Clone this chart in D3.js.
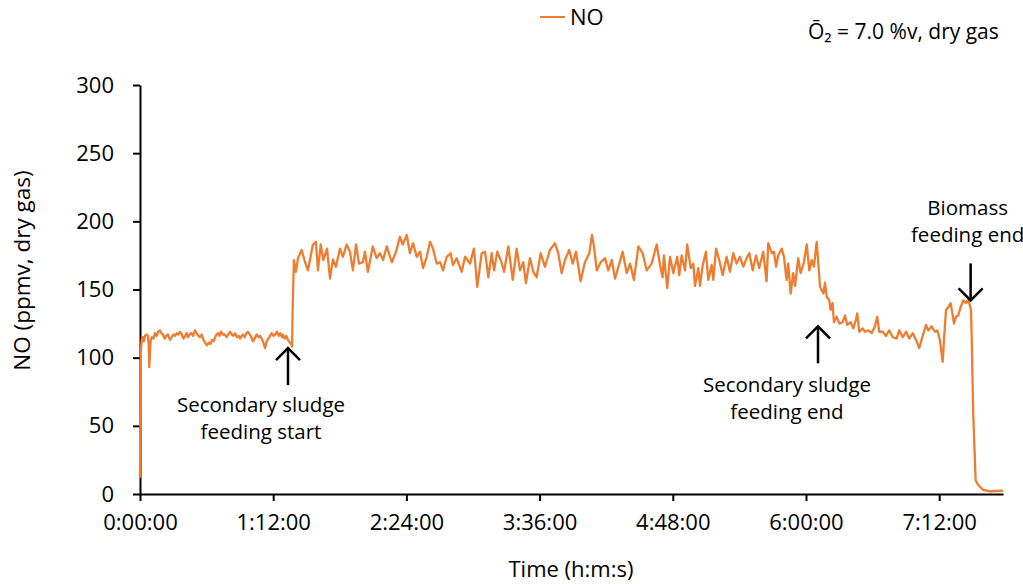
<!DOCTYPE html>
<html>
<head>
<meta charset="utf-8">
<script src="https://cdn.jsdelivr.net/npm/d3@7"></script>
<style>
  html, body { margin: 0; padding: 0; background: #fff; }
  svg { display: block; font-family: "Open Sans", "Noto Sans", sans-serif; }
</style>
</head>
<body>
<svg id="chart" width="1023" height="584"></svg>
<script>
// ---- Data (time in minutes since start, NO in ppmv dry gas) ----
const timeMin = [
  0, 0.5, 0.9, 1.5, 2.1, 2.7, 3.4, 4.3, 4.7, 5.0, 5.4, 5.8, 6.5, 7.3, 8.1, 9, 9.8, 10.8, 11.6, 12.4,
  13.3, 14.2, 15.1, 16.2, 17.2, 18.1, 19, 19.9, 20.8, 21.6, 22.6, 23.5, 24.4, 25.2, 25.9, 26.8, 27.7, 28.7, 29.7, 30.6,
  31.5, 32.4, 33.3, 34.3, 35.2, 36.2, 37.1, 38, 38.9, 39.8, 40.6, 41.4, 42.2, 43, 43.8, 44.8, 45.9, 46.8, 47.7, 48.6,
  49.6, 50.5, 51.4, 52.4, 53.3, 54.1, 55, 55.7, 56.6, 57.5, 58.4, 59.3, 60.2, 61.1, 62, 63, 64, 64.9, 65.8, 66.7,
  67.6, 68.5, 69.4, 70.3, 71.2, 72.2, 73.1, 74.1, 75, 75.9, 76.7, 77.3, 78.2, 79.1, 80, 81, 81.8, 82.2, 82.5, 83.2,
  84.3, 85.4, 87.4, 89.2, 90.8, 93.4, 95.1, 96.2, 97.7, 99.1, 101.1, 102.7, 104.3, 105.9, 108.1, 109.7, 111.7, 113.5, 115.1, 116.8,
  118.4, 120.5, 121.6, 123.2, 125.8, 127.9, 129.7, 131.4, 133.4, 136.1, 138.4, 140.5, 142, 144.2, 145.9, 147.6, 149.6, 151.4, 153, 155,
  156.8, 158.4, 160.4, 162.2, 163.8, 165.8, 167.9, 169.2, 171.2, 173.9, 175.7, 178.4, 180.5, 182.3, 184.7, 186.5, 188.3, 190.1, 191.4, 193.1,
  195, 196.8, 199.1, 201.5, 203.6, 205.4, 207.2, 208.6, 210.8, 212.6, 214.4, 216.6, 218.9, 221.6, 224.3, 226.1, 227.9, 229.7, 232, 233.9,
  235.7, 238.2, 240.5, 242.9, 244.3, 245.4, 246.9, 249, 251.4, 253.1, 255, 256.8, 259.1, 260.9, 263.1, 264.9, 267, 269.4, 271.7, 273.9,
  276.6, 279.3, 281.1, 282.5, 283.2, 285, 286.5, 288.3, 290.4, 291.5, 292.8, 294.6, 295.8, 297.7, 299.1, 300, 301.8, 302.7, 304.2, 305.9,
  307.2, 309, 309.9, 311.4, 313.1, 315, 317.1, 318.9, 320.7, 322.5, 324.3, 326.1, 327.9, 329.4, 331.2, 333, 334.7, 336.9, 338.7, 339.6,
  341.5, 342.7, 343.8, 345, 346.9, 348.1, 349.5, 350.4, 351.7, 353.1, 354.1, 355.8, 357.1, 358.9, 360.4, 361.8, 363.1, 364.3, 365.8, 367.6,
  369.4, 370.3, 371.2, 372.6, 373.3, 374.4, 375.1, 376.6, 378, 379.8, 381.1, 382.3, 384.2, 385.6, 387, 387.7, 388.8, 390.6, 391.9, 393.7,
  395.5, 397.3, 398.5, 399.6, 401.5, 403.2, 405, 406.9, 409, 410.4, 412.3, 414.1, 415.8, 417.7, 419.5, 421.2, 423.1, 424.9, 426.1, 427.9,
  429.7, 431, 432.4, 433.9, 434.6, 435.7, 436.9, 438.2, 439.3, 440, 441.1, 442.3, 443.6, 445, 446.5, 447.4, 448.3, 449.2, 449.5, 450.4,
  451.7, 453.1, 455.8, 459.5, 466.5
];
const noPpmv = [
  12, 105, 113, 115, 112, 116, 117, 116, 110, 93, 104, 113, 115, 114, 118, 116, 119, 120, 118, 117,
  114, 116, 117, 113, 115, 117, 116, 118, 117, 119, 117, 114, 116, 118, 115, 117, 118, 116, 120, 118,
  116, 115, 117, 113, 111, 109, 111, 110, 113, 112, 115, 117, 118, 116, 119, 117, 117, 115, 117, 119,
  117, 116, 118, 115, 116, 114, 116, 117, 115, 118, 119, 117, 115, 112, 114, 117, 115, 116, 114, 111,
  107, 112, 114, 116, 118, 116, 117, 119, 116, 118, 115, 117, 114, 116, 113, 111, 110, 108, 135, 171.6,
  163, 173, 179, 170, 164, 182.6, 185, 164, 183, 171.6, 180, 158, 172, 166.7, 180, 174, 183, 177.7, 164, 183,
  169, 170, 177.7, 163, 181.6, 173, 176.6, 171.6, 181.6, 170, 177.7, 188.7, 183, 190, 176.6, 184, 174, 177.7, 165.7, 174,
  185, 180, 169, 170, 164, 174, 176.6, 168, 173, 163, 174, 169, 180, 152, 176.6, 177.7, 159, 176.6, 164, 177.7,
  171.6, 163, 181.6, 157, 180, 164, 170, 154.6, 173, 163, 159, 176.6, 166.7, 179, 184, 176.6, 162, 171.6, 179, 169,
  177.7, 156, 170, 176.6, 190, 181.6, 164, 170, 173, 164, 171.6, 158, 169, 177.7, 162, 169, 157, 181.6, 176.6, 164,
  169, 183, 168, 159, 175, 151, 174, 162, 174, 160.5, 175, 164, 183, 165.7, 169, 152.6, 165.7, 152.6, 168, 177.7,
  157, 168, 157, 180, 171.6, 160.5, 174, 163, 176.6, 169, 174, 166.7, 173, 176.6, 164, 175, 165.7, 177.7, 156, 184,
  176.6, 177.7, 166.7, 175, 180, 174, 157, 169, 147, 162, 152.6, 173, 162, 170, 183, 164, 171.6, 166.7, 185, 152,
  147, 155, 144.7, 142, 135, 140, 126, 130, 125, 126, 131, 124, 126, 121.5, 128, 132.5, 119, 121.5, 119, 120,
  118, 123, 130, 119, 119, 116, 120, 115, 114, 120, 115, 119, 114, 118, 113, 107, 116, 124, 120, 123,
  119, 120, 113, 97, 113, 135, 137, 140, 131, 125, 130, 131, 137, 142, 140, 142, 140, 135, 120, 59,
  10, 6.6, 3, 2, 2.4
];
const xTickValues = [0, 72, 144, 216, 288, 360, 432];
const yTickValues = [0, 50, 100, 150, 200, 250, 300];
const seriesName = "NO";
const oxygenNote = "Ō₂ = 7.0 %v, dry gas";
const xTitle = "Time (h:m:s)";
const yTitle = "NO (ppmv, dry gas)";
const eventTimes = [80, 366.5, 449];
const eventValues = [107, 123, 142];
const eventLabels = [
  ["Secondary sludge", "feeding start"],
  ["Secondary sludge", "feeding end"],
  ["Biomass", "feeding end"]
];
const eventDirections = ["up", "up", "down"];

// ---- Chart ----
const svg = d3.select("#chart");
const lineColor = "#ED7D31";

const x = d3.scaleLinear().domain([0, 466.5]).range([140, 1003]);
const y = d3.scaleLinear().domain([0, 300]).range([494, 85]);

const fmt = m => {
  const h = Math.floor(m / 60);
  const mm = Math.round(m % 60);
  return `${h}:${String(mm).padStart(2, "0")}:00`;
};

// X axis
const xAxis = svg.append("g")
  .attr("transform", `translate(0,${y(0)})`)
  .call(d3.axisBottom(x).tickValues(xTickValues).tickFormat(fmt).tickSize(7).tickSizeOuter(0).tickPadding(13));
xAxis.select(".domain").attr("stroke", "#000").attr("stroke-width", 2);
xAxis.selectAll(".tick line").attr("stroke", "#000").attr("stroke-width", 2);
xAxis.selectAll(".tick text").attr("font-size", 22).attr("fill", "#000").attr("font-family", "'Open Sans', sans-serif");

// Y axis
const yAxis = svg.append("g")
  .attr("transform", `translate(${x(0)},0)`)
  .call(d3.axisLeft(y).tickValues(yTickValues).tickSize(7).tickSizeOuter(0).tickPadding(19));
yAxis.select(".domain").attr("stroke", "#000").attr("stroke-width", 2);
yAxis.selectAll(".tick line").attr("stroke", "#000").attr("stroke-width", 2);
yAxis.selectAll(".tick text").attr("font-size", 22).attr("fill", "#000").attr("font-family", "'Open Sans', sans-serif");

// Line
const data = timeMin.map((t, i) => ({ t, v: noPpmv[i] }));
svg.append("path")
  .datum(data)
  .attr("fill", "none")
  .attr("stroke", lineColor)
  .attr("stroke-width", 2.3)
  .attr("stroke-linejoin", "round")
  .attr("d", d3.line().x(d => x(d.t)).y(d => y(d.v)));

// Axis titles
svg.append("text")
  .attr("x", 571).attr("y", 577)
  .attr("text-anchor", "middle")
  .attr("font-size", 22)
  .text(xTitle);
svg.append("text")
  .attr("transform", `translate(30,${(y(0) + y(300)) / 2 - 19}) rotate(-90)`)
  .attr("text-anchor", "middle")
  .attr("font-size", 22.5)
  .text(yTitle);

// Legend
svg.append("line")
  .attr("x1", 540).attr("x2", 565).attr("y1", 17).attr("y2", 17)
  .attr("stroke", lineColor).attr("stroke-width", 2);
svg.append("text")
  .attr("x", 570).attr("y", 25)
  .attr("font-size", 22)
  .text(seriesName);

// O2 note
svg.append("text")
  .attr("x", 808).attr("y", 39)
  .attr("font-size", 21)
  .text(oxygenNote);

// Event annotations
const arrowLen = 37;
eventTimes.forEach((t, i) => {
  const ax = x(t);
  const tipY = y(eventValues[i]);
  const dir = eventDirections[i];
  const tailY = dir === "up" ? tipY + arrowLen : tipY - arrowLen;
  const g = svg.append("g").attr("stroke", "#000").attr("stroke-width", 2.5).attr("fill", "none");
  g.append("line").attr("x1", ax).attr("x2", ax).attr("y1", tipY).attr("y2", tailY);
  const s = dir === "up" ? 1 : -1;
  g.append("path").attr("d", `M${ax - 12},${tipY + 12 * s} L${ax},${tipY} L${ax + 12},${tipY + 12 * s}`);

  const lines = eventLabels[i];
  let cx, baseY;
  if (i === 0) { cx = ax - 27; baseY = tailY + 27; }
  else if (i === 1) { cx = ax - 31; baseY = tailY + 29; }
  else { cx = ax - 3; baseY = tailY - 48; }
  lines.forEach((ln, j) => {
    svg.append("text")
      .attr("x", cx).attr("y", baseY + j * 27)
      .attr("text-anchor", "middle")
      .attr("font-size", 20.5)
      .text(ln);
  });
});
</script>
</body>
</html>
